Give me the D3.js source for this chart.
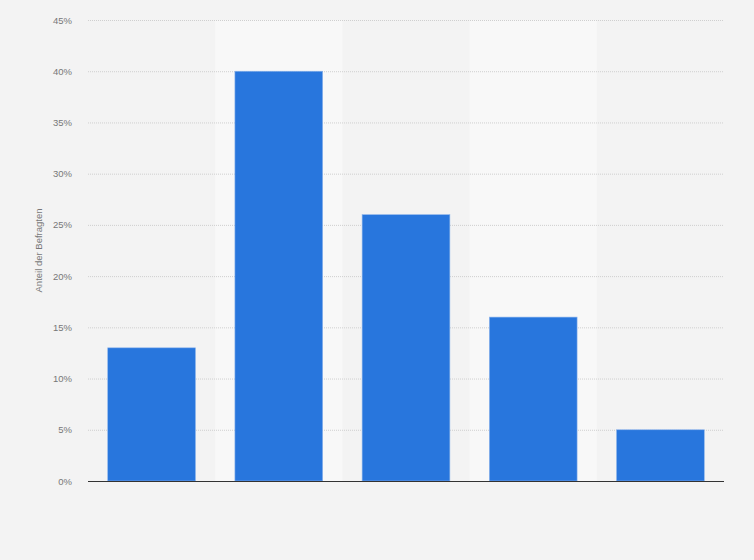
<!DOCTYPE html>
<html><head><meta charset="utf-8">
<script src="https://cdn.jsdelivr.net/npm/d3@7"></script>
<style>
html,body{margin:0;padding:0;background:#f3f3f3;}
svg{display:block;font-family:"Liberation Sans",Arial,sans-serif;}
</style></head>
<body>
<svg id="chart" width="754" height="560"></svg>
<script>
const categories = ["A","B","C","D","E"];
const values = [13, 40, 26, 16, 5];
const yTicks = [0,5,10,15,20,25,30,35,40,45];
const yTitle = "Anteil der Befragten";

const svg = d3.select("#chart");
const W = 754, H = 560;
const m = {left: 88, right: 30, top: 20, bottom: 79};
const iw = W - m.left - m.right, ih = H - m.top - m.bottom;

svg.append("rect").attr("width", W).attr("height", H).attr("fill", "#f3f3f3");

const x = d3.scaleBand().domain(categories).range([m.left, m.left + iw])
  .paddingInner(0.31).paddingOuter(0.155);
const y = d3.scaleLinear().domain([0, 45]).range([m.top + ih, m.top]);

// alternating column bands
svg.append("g").selectAll("rect").data(categories.filter((d,i)=>i%2===1)).join("rect")
  .attr("x", d => x(d) - x.step()*x.paddingInner()/2)
  .attr("width", x.step())
  .attr("y", m.top).attr("height", ih)
  .attr("fill", "#f8f8f8");

// grid
const yAxis = d3.axisLeft(y).tickValues(yTicks).tickFormat(d => d + "%").tickSize(0).tickPadding(16);
const gy = svg.append("g").attr("transform", `translate(${m.left},0)`).call(yAxis);
gy.select(".domain").remove();
gy.selectAll("text").attr("fill", "#777").attr("font-size", 9.5);
svg.append("g").selectAll("line").data(yTicks.filter(d => d > 0)).join("line")
  .attr("x1", m.left).attr("x2", m.left + iw)
  .attr("y1", d => y(d) + 0.5).attr("y2", d => y(d) + 0.5)
  .attr("stroke", "#cfcfcf").attr("stroke-width", 1).attr("stroke-dasharray", "1,1");

// bars
svg.append("g").selectAll("rect").data(values).join("rect")
  .attr("x", (d,i) => x(categories[i]))
  .attr("width", x.bandwidth())
  .attr("y", d => y(d))
  .attr("height", d => y(0) - y(d))
  .attr("fill", "#2876dd")
  .attr("stroke", "#8fb6ec").attr("stroke-width", 0.6);

// baseline
svg.append("line").attr("x1", m.left).attr("x2", m.left + iw)
  .attr("y1", y(0) + 0.5).attr("y2", y(0) + 0.5)
  .attr("stroke", "#333").attr("stroke-width", 1.2);

// y title
svg.append("text")
  .attr("transform", `translate(42,${m.top + ih/2}) rotate(-90)`)
  .attr("text-anchor", "middle").attr("fill", "#777").attr("font-size", 9.5)
  .text(yTitle);
</script>
</body></html>
